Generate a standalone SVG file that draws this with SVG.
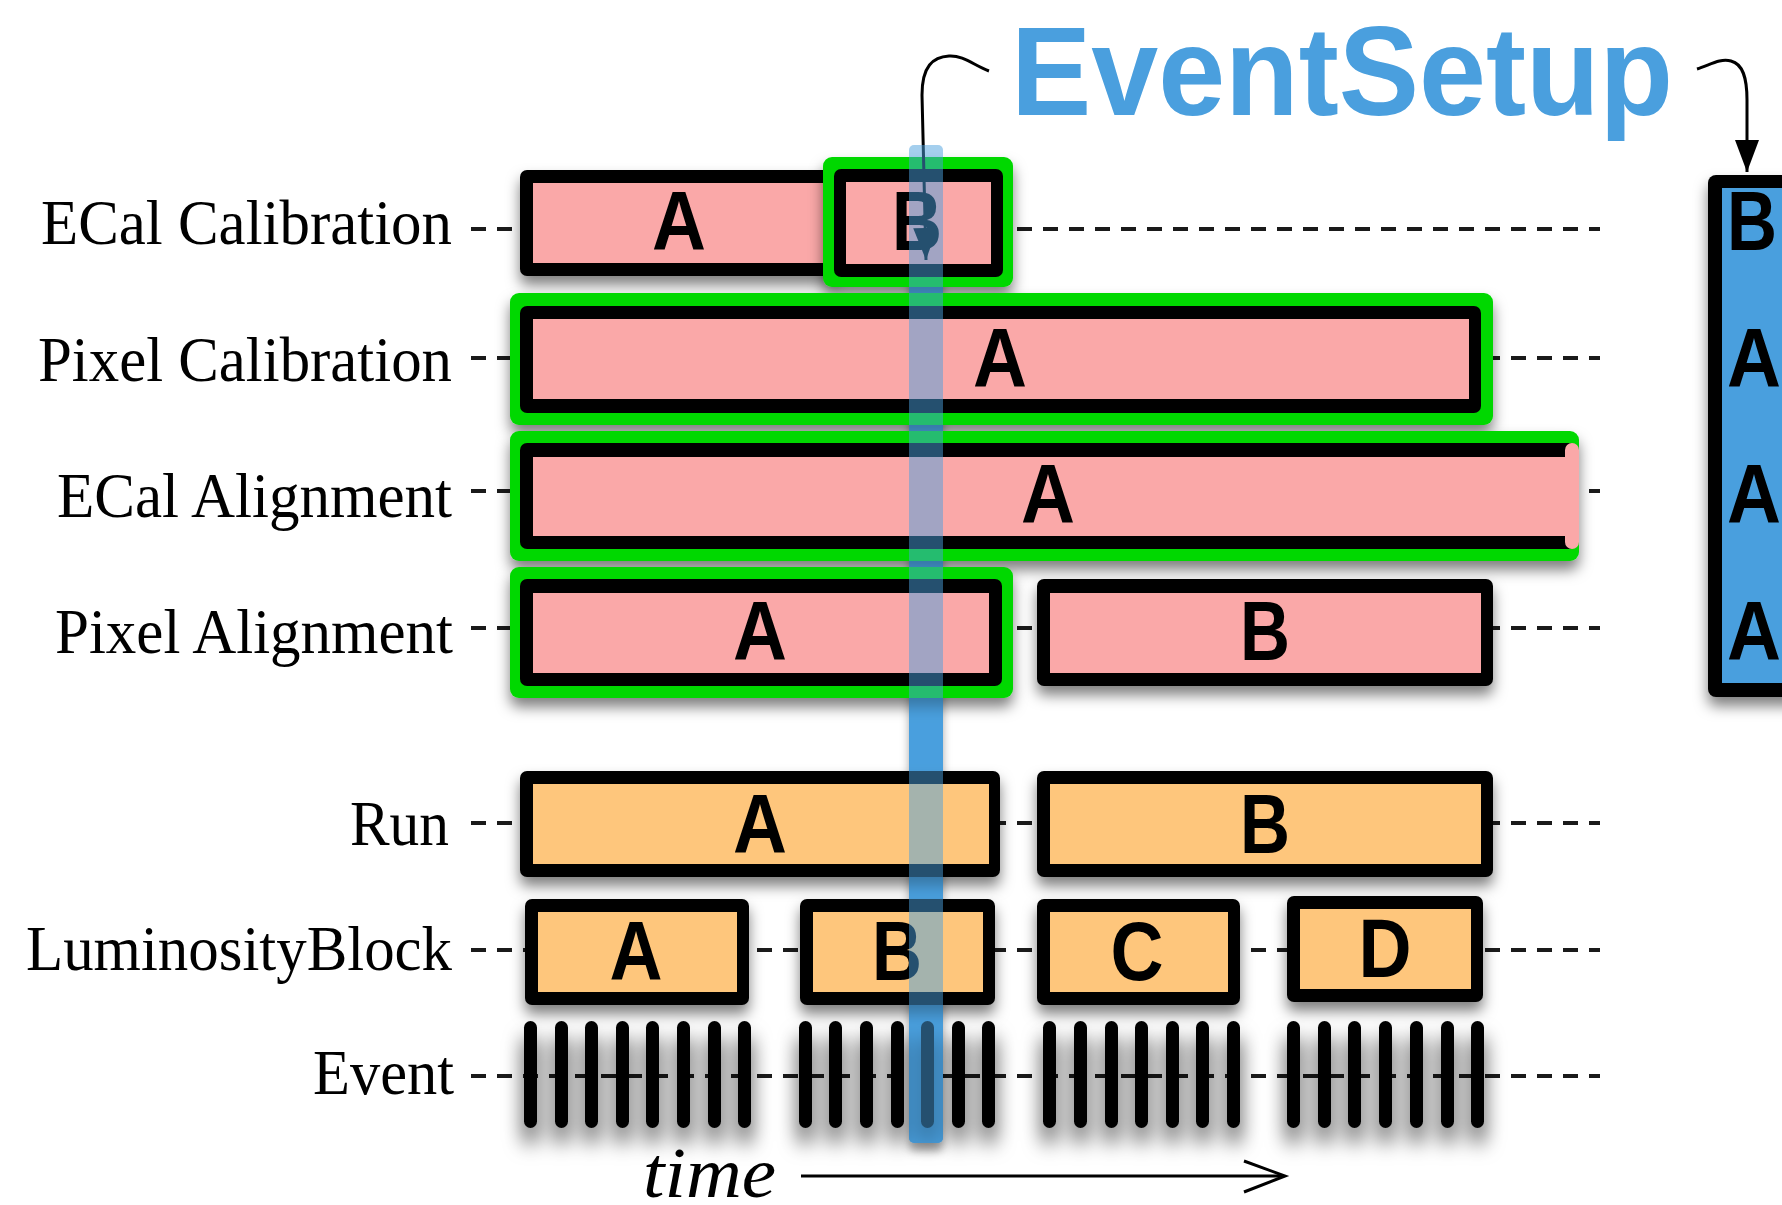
<svg xmlns="http://www.w3.org/2000/svg" width="1782" height="1205" viewBox="0 0 1782 1205">
  <defs>
    <style>
      .label { font-family: "Liberation Serif", "Times New Roman", serif; font-size: 64px; fill: #000; text-anchor: end; }
      .tag { font-family: "Liberation Sans", Arial, sans-serif; font-weight: bold; font-size: 84px; fill: #000; text-anchor: middle; }
      .tagL { font-family: "Liberation Sans", Arial, sans-serif; font-weight: bold; font-size: 84px; fill: #000; }
      .guide { stroke: #1a1a1a; stroke-width: 4; stroke-dasharray: 15 11; fill: none; }
      .frame { fill: #000; }
      .pink { fill: #FAA8A8; }
      .orange { fill: #FEC67C; }
      .hl { fill: #00D800; }
      .tick { fill: #000; }
      .wire { stroke: #000; stroke-width: 3; fill: none; }
    </style>
    <filter id="shadow" x="-20%" y="-30%" width="140%" height="180%">
      <feDropShadow dx="0" dy="9" stdDeviation="7" flood-color="#000" flood-opacity="0.5"/>
    </filter>
    <filter id="shadow-deep" x="-20%" y="-30%" width="140%" height="200%">
      <feDropShadow dx="0" dy="16" stdDeviation="10" flood-color="#000" flood-opacity="0.75"/>
    </filter>
    <filter id="shadow-soft" x="-50%" y="-5%" width="200%" height="110%">
      <feDropShadow dx="0" dy="8" stdDeviation="4" flood-color="#000" flood-opacity="0.35"/>
    </filter>
    <marker id="head" viewBox="0 0 32 24" refX="32" refY="12" markerWidth="32" markerHeight="24" markerUnits="userSpaceOnUse" orient="auto">
      <path d="M0,0 L32,12 L0,24 Z" fill="#000"/>
    </marker>
  </defs>

  <!-- row labels -->
  <g id="labels">
    <text class="label" x="452" y="244" textLength="411" lengthAdjust="spacingAndGlyphs">ECal Calibration</text>
    <text class="label" x="452" y="381" textLength="414" lengthAdjust="spacingAndGlyphs">Pixel Calibration</text>
    <text class="label" x="452" y="517" textLength="395" lengthAdjust="spacingAndGlyphs">ECal Alignment</text>
    <text class="label" x="453" y="653" textLength="398" lengthAdjust="spacingAndGlyphs">Pixel Alignment</text>
    <text class="label" x="449" y="845" textLength="99" lengthAdjust="spacingAndGlyphs">Run</text>
    <text class="label" x="452" y="970" textLength="426" lengthAdjust="spacingAndGlyphs">LuminosityBlock</text>
    <text class="label" x="454" y="1094" textLength="141" lengthAdjust="spacingAndGlyphs">Event</text>
  </g>

  <!-- dashed row guides -->
  <g id="guides">
    <line class="guide" x1="471" y1="229" x2="1600" y2="229"/>
    <line class="guide" x1="471" y1="358" x2="1600" y2="358"/>
    <line class="guide" x1="471" y1="491" x2="1600" y2="491"/>
    <line class="guide" x1="471" y1="628" x2="1600" y2="628"/>
    <line class="guide" x1="471" y1="823" x2="1600" y2="823"/>
    <line class="guide" x1="471" y1="950" x2="1600" y2="950"/>
    <line class="guide" x1="471" y1="1076" x2="1600" y2="1076"/>
  </g>

  <!-- current-time marker, solid part behind the records -->
  <rect id="now-bar" x="909" y="157" width="34" height="986" rx="5" fill="#4A9FDE" filter="url(#shadow-soft)"/>

  <!-- ECal Calibration -->
  <g id="ecal-calib-a" filter="url(#shadow)">
    <rect class="frame" x="520" y="170" width="320" height="106" rx="7"/>
    <rect class="pink" x="533" y="183" width="300" height="80"/>
    <text class="tag" x="679" y="250" textLength="54" lengthAdjust="spacingAndGlyphs">A</text>
  </g>
  <g id="ecal-calib-b" filter="url(#shadow)">
    <rect class="hl" x="823" y="157" width="190" height="130" rx="9"/>
    <rect class="frame" x="834" y="169" width="169" height="108" rx="7"/>
    <rect class="pink" x="846" y="182" width="145" height="82"/>
    <text class="tag" x="917" y="250" textLength="50" lengthAdjust="spacingAndGlyphs">B</text>
  </g>

  <!-- Pixel Calibration -->
  <g id="pixel-calib-a" filter="url(#shadow)">
    <rect class="hl" x="510" y="293" width="983" height="132" rx="9"/>
    <rect class="frame" x="520" y="306" width="961" height="107" rx="7"/>
    <rect class="pink" x="533" y="319" width="936" height="80"/>
    <text class="tag" x="1000" y="387" textLength="54" lengthAdjust="spacingAndGlyphs">A</text>
  </g>

  <!-- ECal Alignment (open-ended interval) -->
  <g id="ecal-align-a" filter="url(#shadow)">
    <rect class="hl" x="510" y="431" width="1069" height="130" rx="9"/>
    <rect class="frame" x="520" y="443" width="1056" height="106" rx="7"/>
    <rect class="pink" x="533" y="457" width="1040" height="79"/>
    <rect class="pink" x="1565" y="443" width="14" height="106" rx="7"/>
    <text class="tag" x="1048" y="523" textLength="54" lengthAdjust="spacingAndGlyphs">A</text>
  </g>

  <!-- Pixel Alignment -->
  <g id="pixel-align-a" filter="url(#shadow)">
    <rect class="hl" x="510" y="567" width="503" height="131" rx="9"/>
    <rect class="frame" x="520" y="579" width="482" height="107" rx="7"/>
    <rect class="pink" x="533" y="593" width="456" height="80"/>
    <text class="tag" x="760" y="660" textLength="54" lengthAdjust="spacingAndGlyphs">A</text>
  </g>
  <g id="pixel-align-b" filter="url(#shadow)">
    <rect class="frame" x="1037" y="579" width="456" height="107" rx="7"/>
    <rect class="pink" x="1050" y="593" width="431" height="80"/>
    <text class="tag" x="1265" y="660" textLength="50" lengthAdjust="spacingAndGlyphs">B</text>
  </g>

  <!-- Run -->
  <g id="run-a" filter="url(#shadow)">
    <rect class="frame" x="520" y="771" width="480" height="106" rx="7"/>
    <rect class="orange" x="533" y="784" width="456" height="80"/>
    <text class="tag" x="760" y="853" textLength="54" lengthAdjust="spacingAndGlyphs">A</text>
  </g>
  <g id="run-b" filter="url(#shadow)">
    <rect class="frame" x="1037" y="771" width="456" height="106" rx="7"/>
    <rect class="orange" x="1050" y="784" width="431" height="80"/>
    <text class="tag" x="1265" y="853" textLength="50" lengthAdjust="spacingAndGlyphs">B</text>
  </g>

  <!-- LuminosityBlock -->
  <g id="lumi-a" filter="url(#shadow)">
    <rect class="frame" x="525" y="899" width="224" height="106" rx="7"/>
    <rect class="orange" x="538" y="912" width="199" height="80"/>
    <text class="tag" x="636" y="980" textLength="53" lengthAdjust="spacingAndGlyphs">A</text>
  </g>
  <g id="lumi-b" filter="url(#shadow)">
    <rect class="frame" x="800" y="899" width="195" height="106" rx="7"/>
    <rect class="orange" x="813" y="912" width="170" height="80"/>
    <text class="tag" x="897" y="980" textLength="50" lengthAdjust="spacingAndGlyphs">B</text>
  </g>
  <g id="lumi-c" filter="url(#shadow)">
    <rect class="frame" x="1037" y="899" width="203" height="106" rx="7"/>
    <rect class="orange" x="1050" y="912" width="178" height="80"/>
    <text class="tag" x="1137" y="980" textLength="53" lengthAdjust="spacingAndGlyphs">C</text>
  </g>
  <g id="lumi-d" filter="url(#shadow)">
    <rect class="frame" x="1287" y="896" width="196" height="106" rx="7"/>
    <rect class="orange" x="1300" y="909" width="171" height="80"/>
    <text class="tag" x="1385" y="977" textLength="53" lengthAdjust="spacingAndGlyphs">D</text>
  </g>

  <!-- Events -->
  <g id="events" filter="url(#shadow-deep)">
    <rect class="tick" x="524" y="1021" width="13" height="107" rx="6.5"/>
    <rect class="tick" x="555" y="1021" width="13" height="107" rx="6.5"/>
    <rect class="tick" x="585" y="1021" width="13" height="107" rx="6.5"/>
    <rect class="tick" x="616" y="1021" width="13" height="107" rx="6.5"/>
    <rect class="tick" x="646" y="1021" width="13" height="107" rx="6.5"/>
    <rect class="tick" x="677" y="1021" width="13" height="107" rx="6.5"/>
    <rect class="tick" x="708" y="1021" width="13" height="107" rx="6.5"/>
    <rect class="tick" x="738" y="1021" width="13" height="107" rx="6.5"/>

    <rect class="tick" x="799" y="1021" width="13" height="107" rx="6.5"/>
    <rect class="tick" x="829" y="1021" width="13" height="107" rx="6.5"/>
    <rect class="tick" x="860" y="1021" width="13" height="107" rx="6.5"/>
    <rect class="tick" x="891" y="1021" width="13" height="107" rx="6.5"/>
    <rect class="tick" x="921" y="1021" width="13" height="107" rx="6.5"/>
    <rect class="tick" x="952" y="1021" width="13" height="107" rx="6.5"/>
    <rect class="tick" x="982" y="1021" width="13" height="107" rx="6.5"/>

    <rect class="tick" x="1043" y="1021" width="13" height="107" rx="6.5"/>
    <rect class="tick" x="1074" y="1021" width="13" height="107" rx="6.5"/>
    <rect class="tick" x="1105" y="1021" width="13" height="107" rx="6.5"/>
    <rect class="tick" x="1135" y="1021" width="13" height="107" rx="6.5"/>
    <rect class="tick" x="1166" y="1021" width="13" height="107" rx="6.5"/>
    <rect class="tick" x="1196" y="1021" width="13" height="107" rx="6.5"/>
    <rect class="tick" x="1227" y="1021" width="13" height="107" rx="6.5"/>

    <rect class="tick" x="1287" y="1021" width="13" height="107" rx="6.5"/>
    <rect class="tick" x="1318" y="1021" width="13" height="107" rx="6.5"/>
    <rect class="tick" x="1348" y="1021" width="13" height="107" rx="6.5"/>
    <rect class="tick" x="1379" y="1021" width="13" height="107" rx="6.5"/>
    <rect class="tick" x="1410" y="1021" width="13" height="107" rx="6.5"/>
    <rect class="tick" x="1441" y="1021" width="13" height="107" rx="6.5"/>
    <rect class="tick" x="1471" y="1021" width="13" height="107" rx="6.5"/>
  </g>

  <!-- EventSetup snapshot -->
  <g id="eventsetup-record" filter="url(#shadow)">
    <rect class="frame" x="1708" y="175" width="110" height="522" rx="8"/>
    <rect x="1722" y="188" width="96" height="495" fill="#4A9FDE"/>
    <text class="tagL" x="1727" y="250" textLength="50" lengthAdjust="spacingAndGlyphs">B</text>
    <text class="tagL" x="1727" y="387" textLength="54" lengthAdjust="spacingAndGlyphs">A</text>
    <text class="tagL" x="1727" y="523" textLength="54" lengthAdjust="spacingAndGlyphs">A</text>
    <text class="tagL" x="1727" y="660" textLength="54" lengthAdjust="spacingAndGlyphs">A</text>
  </g>

  <g id="eventsetup-title">
    <text x="1011" y="115" textLength="662" lengthAdjust="spacingAndGlyphs" style="font-family: 'Liberation Sans', Arial, sans-serif; font-weight: bold; font-size: 126px; fill: #4A9FDE;">EventSetup</text>
  </g>

  <!-- connectors -->
  <g id="connectors">
    <path class="wire" d="M989,71 C975,66 963,55 949,56 C933,57 922,66 922,95 L926,260" marker-end="url(#head)"/>
    <path class="wire" d="M1697,69 C1710,65 1720,58 1731,61 C1743,64 1747,78 1747,100 L1747,172" marker-end="url(#head)"/>
    <line class="wire" x1="801" y1="1176" x2="1284" y2="1176" stroke-width="3.5"/>
    <polyline class="wire" points="1244,1161 1285,1176 1244,1192" stroke-width="3.5"/>
  </g>

  <text id="time-label" x="643" y="1197" textLength="133" lengthAdjust="spacingAndGlyphs" style="font-family: 'Liberation Serif', 'Times New Roman', serif; font-style: italic; font-size: 72px; fill: #000;">time</text>

  <!-- current-time marker, translucent overlay -->
  <rect id="now-overlay" x="909" y="145" width="34" height="998" rx="5" fill="#4A9FDE" fill-opacity="0.5"/>
</svg>
